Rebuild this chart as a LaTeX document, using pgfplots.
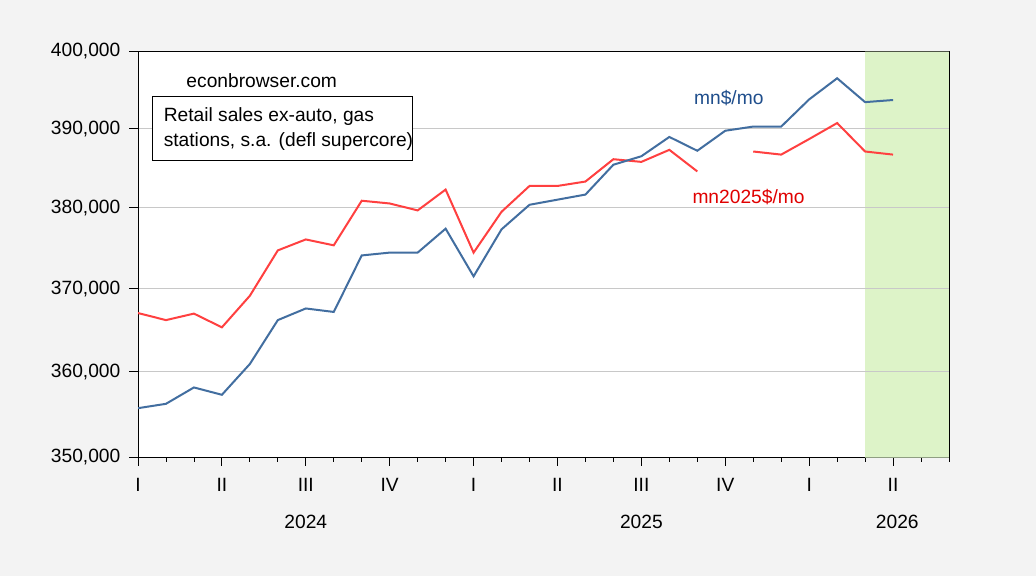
\documentclass[border=0pt]{standalone}
\usepackage{graphicx}
\usepackage{pgfplots}
\pgfplotsset{compat=1.18}
\usepackage{fontspec}
\setmainfont{Liberation Sans}
\definecolor{bgray}{RGB}{243,243,243}
\definecolor{shade}{RGB}{221,243,200}
\definecolor{lblue}{RGB}{66,110,160}
\definecolor{lred}{RGB}{255,64,64}
\definecolor{tblue}{RGB}{31,78,140}
\definecolor{tred}{RGB}{224,0,0}
\definecolor{gridc}{RGB}{200,200,200}
\begin{document}
\scalebox{4}{%
\begin{tikzpicture}
\fontsize{4.8bp}{5.8bp}\selectfont
\fill[bgray] (-34.5bp,-29.5bp) rectangle (224.5bp,114.5bp);
\fill[white] (0bp,0bp) rectangle (202.75bp,101.5bp);
\begin{axis}[
  at={(0bp,0bp)}, anchor=south west,
  scale only axis, width=202.75bp, height=101.5bp,
  xmin=0, xmax=29,
  ymode=log, ymin=350000, ymax=400000,
  xtick={0,3,...,27},
  xticklabels={I,II,III,IV,I,II,III,IV,I,II},
  minor xtick={0,1,...,29},
  ytick={350000,360000,370000,380000,390000,400000},
  yticklabels={{350,000},{360,000},{370,000},{380,000},{390,000},{400,000}},
  xtick pos=left, ytick pos=left,
  tick align=outside,
  major tick length=2.125bp, minor tick length=1.075bp,
  every tick/.style={black, line width=0.2bp},
  axis line style={black, line width=0.225bp},
  ymajorgrids, major grid style={gridc, line width=0.2bp},
  xticklabel style={font=\fontsize{4.8bp}{5.8bp}\selectfont, yshift=-1.25bp},
  yticklabel style={font=\fontsize{4.8bp}{5.8bp}\selectfont, xshift=-0.5bp},
]
\addplot[draw=none, fill=shade] coordinates {(26,350000) (29,350000) (29,400000) (26,400000) (26,350000)};
\addplot[gridc, line width=0.2bp] coordinates {(26,360000) (29,360000)};
\addplot[gridc, line width=0.2bp] coordinates {(26,370000) (29,370000)};
\addplot[gridc, line width=0.2bp] coordinates {(26,380000) (29,380000)};
\addplot[gridc, line width=0.2bp] coordinates {(26,390000) (29,390000)};
\addplot[lred, line width=0.5bp] coordinates {
(0,367040) (1,366190) (2,366990) (3,365310) (4,369130) (5,374670) (6,376070) (7,375330)
(8,380910) (9,380540) (10,379660) (11,382290) (12,374430) (13,379500) (14,382750) (15,382750)
(16,383260) (17,386160) (18,385780) (19,387310) (20,384600)};
\addplot[lred, line width=0.5bp] coordinates {
(22,387090) (23,386670) (24,388710) (25,390760) (26,387090) (27,386670)};
\addplot[lblue, line width=0.5bp] coordinates {
(0,355730) (1,356230) (2,358190) (3,357280) (4,360940) (5,366190) (6,367600) (7,367160)
(8,374090) (9,374430) (10,374430) (11,377420) (12,371520) (13,377300) (14,380370) (15,381040)
(16,381630) (17,385400) (18,386490) (19,388960) (20,387180) (21,389770) (22,390280) (23,390280)
(24,393760) (25,396570) (26,393460) (27,393720)};
\end{axis}
\draw[black, line width=0.225bp] (202.75bp,0bp) -- (202.75bp,101.5bp);
\node[anchor=base] at (41.949bp,-17.575bp) {2024};
\node[anchor=base] at (125.847bp,-17.575bp) {2025};
\node[anchor=base] at (189.819bp,-17.575bp) {2026};
\node[anchor=base west, inner sep=0pt] at (11.925bp,92.575bp) {econbrowser.com};
\draw[black, line width=0.225bp, fill=white] (3.575bp,74.5bp) rectangle (68.675bp,90.325bp);
\node[anchor=base west, inner sep=0pt] at (6.25bp,84.075bp) {Retail sales ex-auto, gas};
\node[anchor=base west, inner sep=0pt] at (6.25bp,77.825bp) {stations, s.a. (defl supercore)};
\node[anchor=base west, inner sep=0pt, text=tblue] at (138.825bp,88.25bp) {mn\$/mo};
\node[anchor=base west, inner sep=0pt, text=tred] at (138.425bp,63.5bp) {mn2025\$/mo};
\end{tikzpicture}}
\end{document}
